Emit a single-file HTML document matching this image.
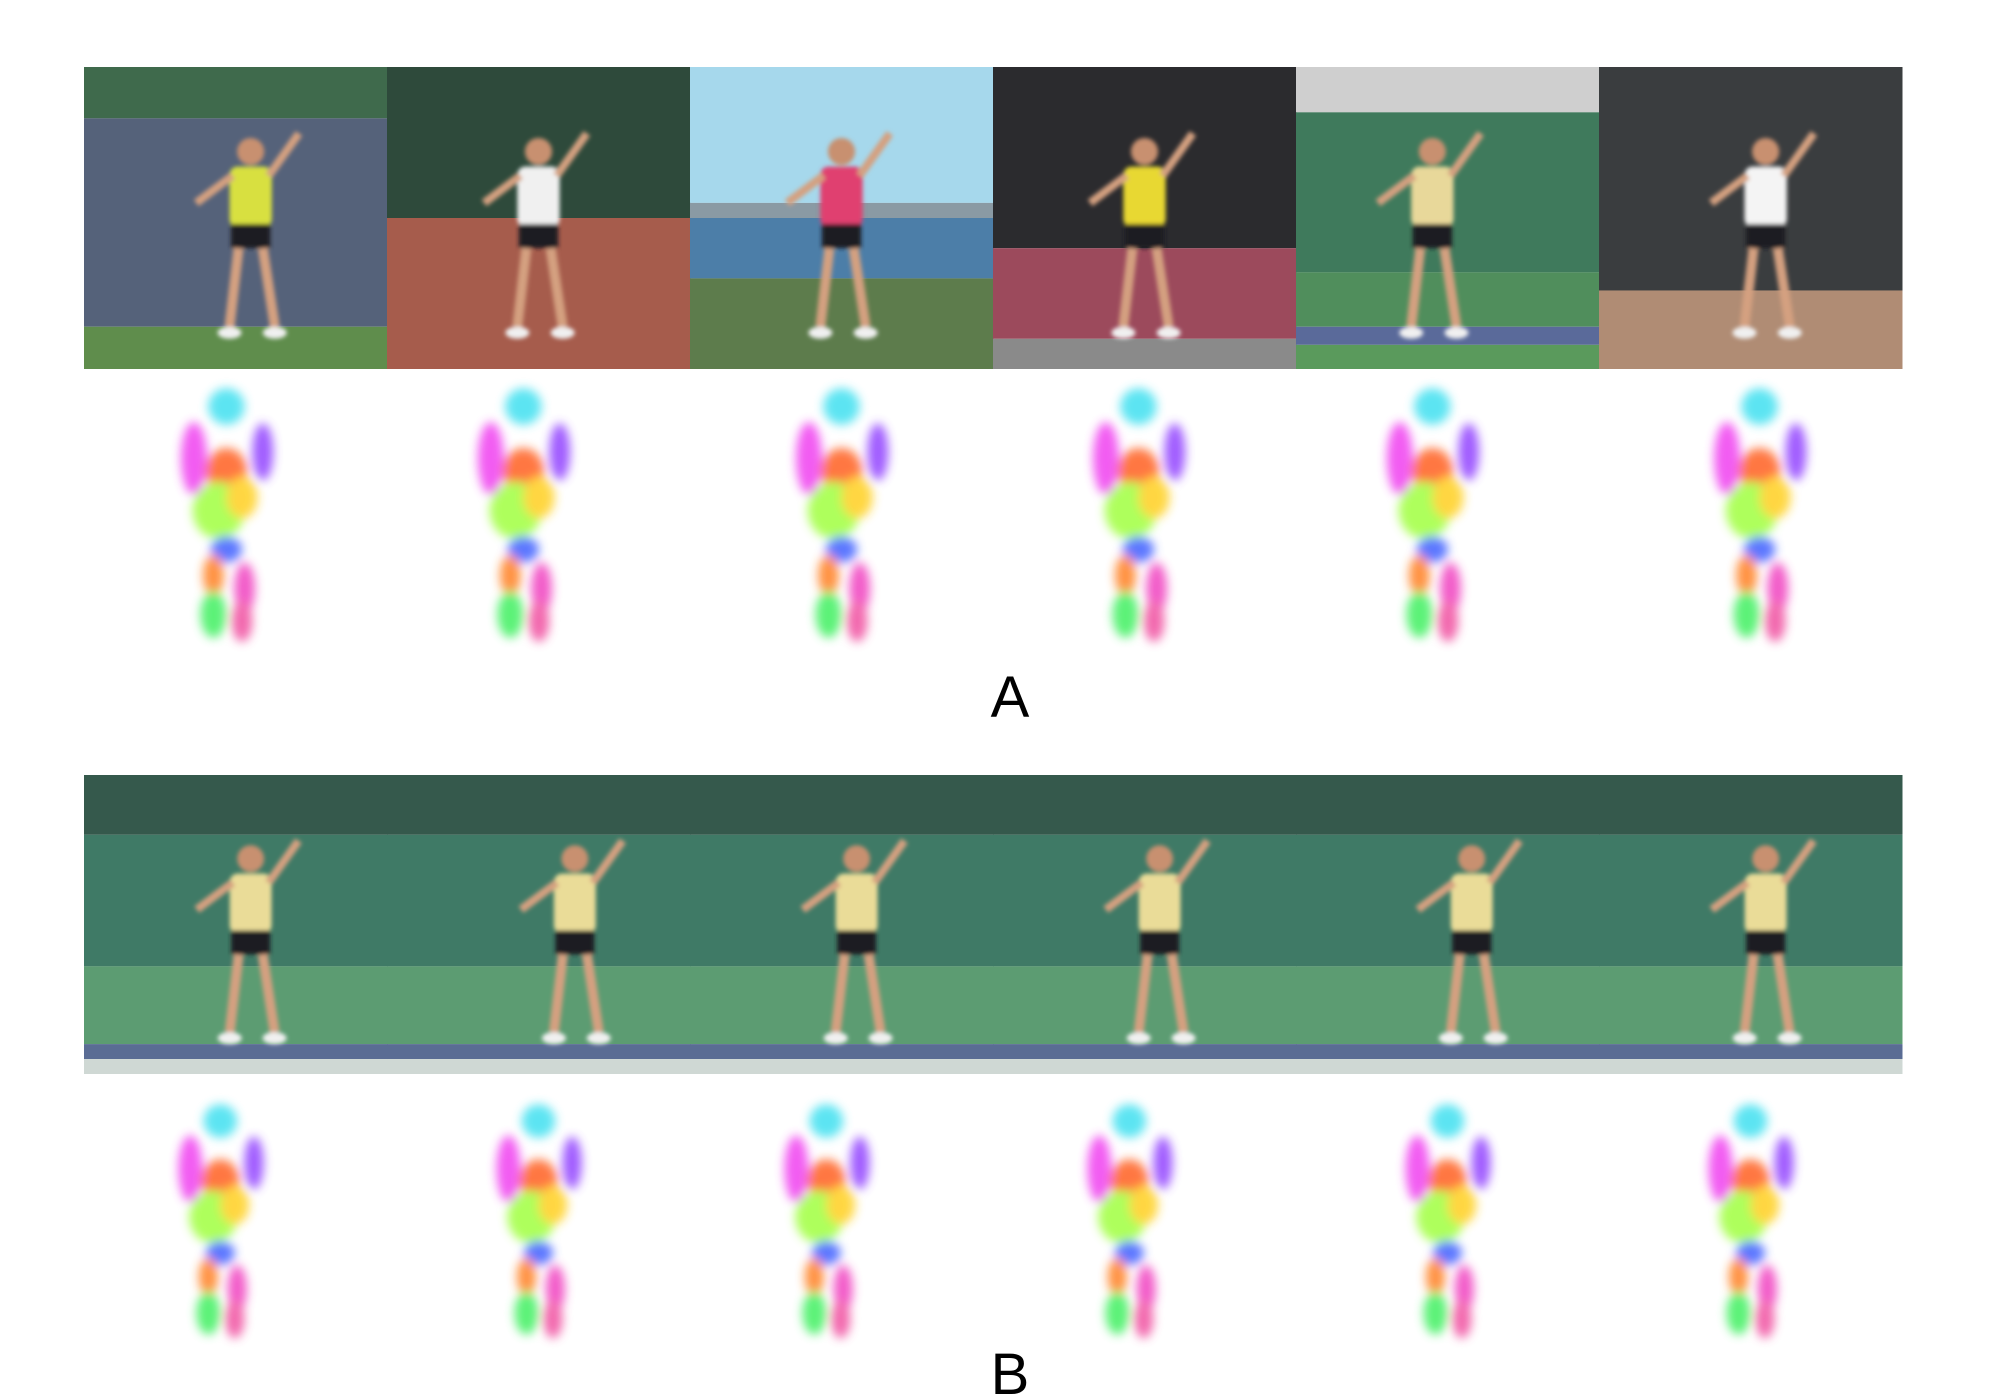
<!DOCTYPE html>
<html><head><meta charset="utf-8"><style>
html,body{margin:0;padding:0;background:#fff;width:1997px;height:1400px;overflow:hidden}
svg{display:block}
text{font-family:"Liberation Sans",sans-serif}
</style></head><body>
<svg id="fig" width="1997" height="1400" viewBox="0 0 1997 1400">
<defs>
<filter id="blur" x="-50%" y="-50%" width="200%" height="200%"><feGaussianBlur stdDeviation="5"/></filter>
<filter id="pblur" x="-20%" y="-20%" width="140%" height="140%"><feGaussianBlur stdDeviation="2"/></filter>
</defs>
<g id="rowA-photos"></g>
<g id="rowA-poses"></g>
<text x="1010" y="717" font-size="58" text-anchor="middle" fill="#000">A</text>
<g id="rowB-photos"></g>
<g id="rowB-poses"></g>
<text x="1010" y="1394" font-size="58" text-anchor="middle" fill="#000">B</text>
</svg>
<script>
const NS='http://www.w3.org/2000/svg';
const panelX0=84, panelW=303;
const bandsA=[
 [[0,'#3f6a4c'],[0.17,'#55627a'],[0.86,'#5f8d4c']],
 [[0,'#2e4a3b'],[0.5,'#a65c4c']],
 [[0,'#a6d8ec'],[0.45,'#8a9aa4'],[0.5,'#4c7ea8'],[0.7,'#5d7c4c']],
 [[0,'#2b2b2e'],[0.6,'#9c4a5c'],[0.9,'#8a8a8a']],
 [[0,'#cfcfcf'],[0.15,'#3f7a5c'],[0.68,'#508e5c'],[0.86,'#5a6a9a'],[0.92,'#5a9a5c']],
 [[0,'#3a3d3f'],[0.74,'#b08c74']]
];
const bandB=[[0,'#35594c'],[0.2,'#3f7a66'],[0.64,'#5c9c72'],[0.9,'#5a6c94'],[0.95,'#cfd8d4']];
const shirtA=['#d8e040','#f0f0f0','#e04070','#e8d830','#e8d89a','#f4f4f4'];
const figAx=[0.55,0.5,0.5,0.5,0.45,0.55];
const figBx=[0.55,0.62,0.55,0.55,0.58,0.55];
const poseAx=[0.47,0.45,0.5,0.48,0.45,0.53];
const poseBx=[0.45,0.5,0.45,0.45,0.5,0.5];
const parts=[
 ['#40e0f0',0,-95,14,14],['#f040f0',-25,-55,10,28],['#ff6020',0,-45,16,18],['#a0ff40',-6,-15,20,22],
 ['#ffd020',12,-25,12,16],['#4060ff',0,15,12,10],['#ff8020',-10,35,8,16],['#f040c0',14,45,8,20],
 ['#40f060',-10,65,10,18],['#f050a0',12,70,8,16],['#9040ff',28,-60,8,22]
];
function el(tag,attrs,parent){const e=document.createElementNS(NS,tag);for(const k in attrs)e.setAttribute(k,attrs[k]);parent.appendChild(e);return e;}
function photoRow(gid,y,h,bandsList,shirts,figx,prefix){
 const g=document.getElementById(gid);
 for(let i=0;i<6;i++){
  const x=panelX0+i*panelW;
  const pg=el('g',{},g);
  
  
  const bands=bandsList[i];
  for(let b=0;b<bands.length;b++){
   const y0=y+bands[b][0]*h, y1=b+1<bands.length?y+bands[b+1][0]*h:y+h;
   el('rect',{x:x,y:y0,width:panelW+0.5,height:y1-y0,fill:bands[b][1]},pg);
  }
  const cx=x+figx[i]*panelW;
  const f=el('g',{filter:'url(#pblur)'},pg);
  el('circle',{cx:cx,cy:y+h*0.28,r:h*0.045,fill:'#c89070'},f);
  el('rect',{x:cx-h*0.07,y:y+h*0.33,width:h*0.14,height:h*0.2,rx:8,fill:shirts[i]},f);
  el('rect',{x:cx-h*0.065,y:y+h*0.52,width:h*0.13,height:h*0.08,fill:'#1e1e24'},f);
  el('line',{x1:cx-h*0.04,y1:y+h*0.6,x2:cx-h*0.07,y2:y+h*0.86,stroke:'#d4a080','stroke-width':10},f);
  el('line',{x1:cx+h*0.04,y1:y+h*0.6,x2:cx+h*0.08,y2:y+h*0.86,stroke:'#d4a080','stroke-width':10},f);
  el('line',{x1:cx-h*0.06,y1:y+h*0.36,x2:cx-h*0.18,y2:y+h*0.45,stroke:'#d4a080','stroke-width':8},f);
  el('line',{x1:cx+h*0.06,y1:y+h*0.36,x2:cx+h*0.16,y2:y+h*0.22,stroke:'#d4a080','stroke-width':8},f);
  el('ellipse',{cx:cx-h*0.07,cy:y+h*0.88,rx:12,ry:6,fill:'#f0f0f0'},f);
  el('ellipse',{cx:cx+h*0.08,cy:y+h*0.88,rx:12,ry:6,fill:'#f0f0f0'},f);
 }
}
function poseRow(gid,cy,pxs,prefix,s){
 const g=document.getElementById(gid);
 for(let i=0;i<6;i++){
  const cx=panelX0+i*panelW+pxs[i]*panelW;
  const pg=el('g',{filter:'url(#blur)',opacity:0.85},g);
  
  
  for(const p of parts){
   el('ellipse',{cx:cx+p[1]*s,cy:cy+p[2]*s,rx:p[3]*s,ry:p[4]*s,fill:p[0]},pg);
  }
 }
}
photoRow('rowA-photos',67,302,bandsA,shirtA,figAx,'row-a');
poseRow('rowA-poses',530,poseAx,'row-a',1.3);
const bandsB=[0,1,2,3,4,5].map(()=>bandB);
photoRow('rowB-photos',775,299,bandsB,['#eadc98','#eadc98','#eadc98','#eadc98','#eadc98','#eadc98'],figBx,'row-b');
poseRow('rowB-poses',1235,poseBx,'row-b',1.2);
</script>
</body></html>
